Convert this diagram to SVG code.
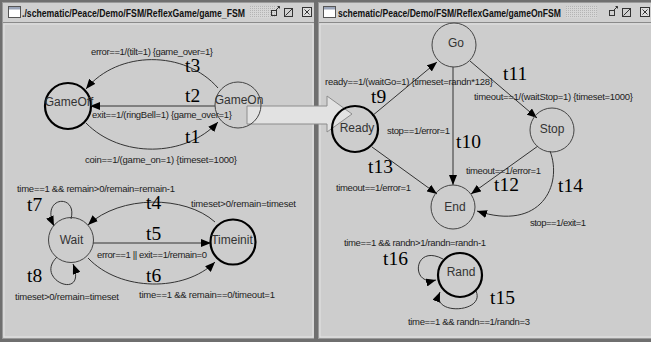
<svg xmlns="http://www.w3.org/2000/svg" width="651" height="347" viewBox="0 0 651 347">
  <defs>
    <marker id="arrow" markerWidth="10" markerHeight="8" refX="10" refY="4" orient="auto" markerUnits="userSpaceOnUse">
      <path d="M0,0 L10,4 L0,8 z" fill="#000"/>
    </marker>
    <pattern id="grip" width="2" height="2" patternUnits="userSpaceOnUse">
      <rect width="2" height="2" fill="#d6d6d6"/>
      <rect width="1" height="1" fill="#b4b4b4"/>
    </pattern>
    <g id="winicon">
      <rect x="0" y="0" width="12" height="11" fill="#fff" stroke="#555" stroke-width="1"/>
      <rect x="0.5" y="0.5" width="11" height="2.5" fill="#9aa4b8"/>
    </g>
    <g id="btns">
      <!-- minimise / maximise / close -->
      <rect x="0" y="3" width="5" height="5" fill="none" stroke="#333"/>
      <path d="M4,3 L8,-1 M6,-1 L8,-1 L8,1" fill="none" stroke="#333"/>
      <rect x="13" y="1" width="8" height="8" fill="none" stroke="#333"/>
      <path d="M14,8 L21,1 M17,1 L21,1 L21,4" fill="none" stroke="#333"/>
      <rect x="31" y="0" width="9" height="9" fill="#ddd" stroke="#333"/>
      <path d="M33,2 L38,7 M38,2 L33,7" stroke="#333"/>
    </g>
  </defs>
  <style>
    .win { fill: #cdcdcd; }
    .frame { fill: #6f6f6f; }
    .title { font-family: "Liberation Sans", Arial, sans-serif; font-size: 11px; font-weight: bold; fill: #111; }
    .state { fill: none; stroke: #444; stroke-width: 1; }
    .init { fill: none; stroke: #000; stroke-width: 2.2; }
    .name { font-family: "Liberation Sans", Arial, sans-serif; font-size: 12px; fill: #333; text-anchor: middle; }
    .edge { fill: none; stroke: #333; stroke-width: 1; marker-end: url(#arrow); }
    .lbl { font-family: "Liberation Sans", Arial, sans-serif; font-size: 9.5px; fill: #222; }
    .tid { font-family: "Liberation Serif", "Times New Roman", serif; font-size: 19.5px; fill: #000; }
  </style>

  <rect width="651" height="347" fill="#fff"/>

  <!-- left window frame -->
  <rect class="frame" x="0" y="0" width="317" height="342"/>
  <rect x="2" y="2" width="312" height="337" fill="#9a9a9a"/>
  <rect class="win" x="3" y="3" width="311" height="335"/>
  <rect x="3" y="3" width="311" height="19" fill="#d0d0d0"/>
  <line x1="3" y1="22.5" x2="314" y2="22.5" stroke="#8a8a8a"/>
  <rect x="4" y="24" width="309" height="313" fill="#cdcdcd" stroke="#e4e4e4" stroke-width="1"/>
  <use href="#winicon" x="8.5" y="6.5"/>
  <text class="title" x="22" y="17" textLength="223" lengthAdjust="spacingAndGlyphs">./schematic/Peace/Demo/FSM/ReflexGame/game_FSM</text>
  <rect x="250" y="6" width="26" height="12" fill="url(#grip)"/>
  <use href="#btns" x="271.5" y="7.5"/>

  <!-- right window frame -->
  <rect class="frame" x="316" y="0" width="335" height="342"/>
  <rect x="318" y="2" width="333" height="337" fill="#9a9a9a"/>
  <rect class="win" x="319" y="3" width="332" height="335"/>
  <rect x="319" y="3" width="332" height="19" fill="#d0d0d0"/>
  <line x1="319" y1="22.5" x2="651" y2="22.5" stroke="#8a8a8a"/>
  <rect x="320" y="24" width="332" height="313" fill="#cdcdcd" stroke="#e4e4e4" stroke-width="1"/>
  <use href="#winicon" x="323.5" y="6.5"/>
  <text class="title" x="338" y="17" textLength="223" lengthAdjust="spacingAndGlyphs">schematic/Peace/Demo/FSM/ReflexGame/gameOnFSM</text>
  <rect x="566" y="6" width="31" height="12" fill="url(#grip)"/>
  <use href="#btns" x="609.5" y="7.5"/>

  <!-- connectors -->
  <g id="connectors">
    <path id="t3" class="edge" d="M218,88 C185,50 118,50 86,89"/>
    <path id="t2" class="edge" d="M215,106 L90,106"/>
    <path id="t1" class="edge" d="M86,123 C120,158 185,158 218,122"/>
    <path id="t4" class="edge" d="M215,222 C185,195 120,195 88,225"/>
    <path id="t5" class="edge" d="M93,243 L211,243"/>
    <path id="t6" class="edge" d="M88,258 C120,292 185,292 215,262"/>
    <path id="t7" class="edge" d="M71,219 C78,193 40,196 54,226"/>
    <path id="t8" class="edge" d="M57,257 C33,280 88,302 73,264"/>
    <path id="t9" class="edge" d="M372,116 L437,62"/>
    <path id="t11" class="edge" d="M470,61 L537,118"/>
    <path id="t10" class="edge" d="M453,67 L453,185"/>
    <path id="t13" class="edge" d="M372,147 L437,194"/>
    <path id="t12" class="edge" d="M538,146 L471,194"/>
    <path id="t14" class="edge" d="M550,151 C563,185 541,232 477,211"/>
    <path id="t16" class="edge" d="M443,259 C413,243 410,287 436,280"/>
    <path id="t15" class="edge" d="M476,291 C486,313 430,316 440,292"/>
    <!-- hierarchy arrow from GameOn into the sub-machine -->
    <polygon points="247,106 327,106 327,96 352,114 327,132 327,124 247,124" fill="#e2e2e2" stroke="#8c8c8c" stroke-width="1"/>
  </g>

  <!-- connector labels -->
  <g id="labels">
    <text class="lbl" x="91" y="55" textLength="122">error==1/(tilt=1) {game_over=1}</text>
    <text class="tid" x="185" y="72">t3</text>
    <text class="tid" x="185" y="102">t2</text>
    <text class="lbl" x="92" y="118" textLength="140">exit==1/(ringBell=1) {game_over=1}</text>
    <text class="tid" x="185" y="143">t1</text>
    <text class="lbl" x="85" y="163" textLength="152">coin==1/(game_on=1) {timeset=1000}</text>

    <text class="lbl" x="17" y="192" textLength="158">time==1  &amp;&amp; remain&gt;0/remain=remain-1</text>
    <text class="tid" x="27" y="211">t7</text>
    <text class="tid" x="146" y="209">t4</text>
    <text class="lbl" x="191" y="207" textLength="105">timeset&gt;0/remain=timeset</text>
    <text class="tid" x="146" y="240">t5</text>
    <text class="lbl" x="97" y="258" textLength="110">error==1 || exit==1/remain=0</text>
    <text class="tid" x="146" y="282">t6</text>
    <text class="tid" x="27" y="282">t8</text>
    <text class="lbl" x="139" y="298" textLength="136">time==1   &amp;&amp; remain==0/timeout=1</text>
    <text class="lbl" x="15" y="300" textLength="104">timeset&gt;0/remain=timeset</text>

    <text class="lbl" x="325" y="85" textLength="168">ready==1/(waitGo=1) {timeset=randn*128}</text>
    <text class="tid" x="371" y="103">t9</text>
    <text class="tid" x="503" y="80">t11</text>
    <text class="lbl" x="474" y="100" textLength="159">timeout==1/(waitStop=1) {timeset=1000}</text>
    <text class="lbl" x="387" y="134" textLength="63">stop==1/error=1</text>
    <text class="tid" x="456" y="148">t10</text>
    <text class="tid" x="368" y="173">t13</text>
    <text class="lbl" x="466" y="174" textLength="75">timeout==1/error=1</text>
    <text class="lbl" x="336" y="191" textLength="75">timeout==1/error=1</text>
    <text class="tid" x="494" y="191">t12</text>
    <text class="tid" x="558" y="192">t14</text>
    <text class="lbl" x="530" y="226" textLength="56">stop==1/exit=1</text>
    <text class="lbl" x="344" y="246" textLength="142">time==1  &amp;&amp; randn&gt;1/randn=randn-1</text>
    <text class="tid" x="383" y="265">t16</text>
    <text class="tid" x="490" y="304">t15</text>
    <text class="lbl" x="408" y="325" textLength="122">time==1 &amp;&amp; randn==1/randn=3</text>
  </g>

  <!-- states -->
  <g id="GameOff"><circle class="init" cx="68" cy="106" r="23"/><text class="name" x="69" y="106">GameOff</text></g>
  <g id="GameOn"><circle class="state" cx="238" cy="105" r="23"/><text class="name" x="239" y="104">GameOn</text></g>
  <g id="Wait"><circle class="state" cx="71" cy="240" r="22.5"/><text class="name" x="71.5" y="244">Wait</text></g>
  <g id="Timeinit"><circle class="init" cx="233" cy="242" r="22.5"/><text class="name" x="232" y="244">Timeinit</text></g>
  <g id="Go"><circle class="state" cx="454" cy="45" r="22"/><text class="name" x="456" y="47">Go</text></g>
  <g id="Ready"><circle class="init" cx="355" cy="129" r="23"/><text class="name" x="357" y="132">Ready</text></g>
  <g id="Stop"><circle class="state" cx="552" cy="130" r="22"/><text class="name" x="552" y="133">Stop</text></g>
  <g id="End"><circle class="state" cx="453" cy="207" r="22"/><text class="name" x="455" y="211">End</text></g>
  <g id="Rand"><circle class="init" cx="460" cy="275" r="22"/><text class="name" x="461" y="276">Rand</text></g>
</svg>
